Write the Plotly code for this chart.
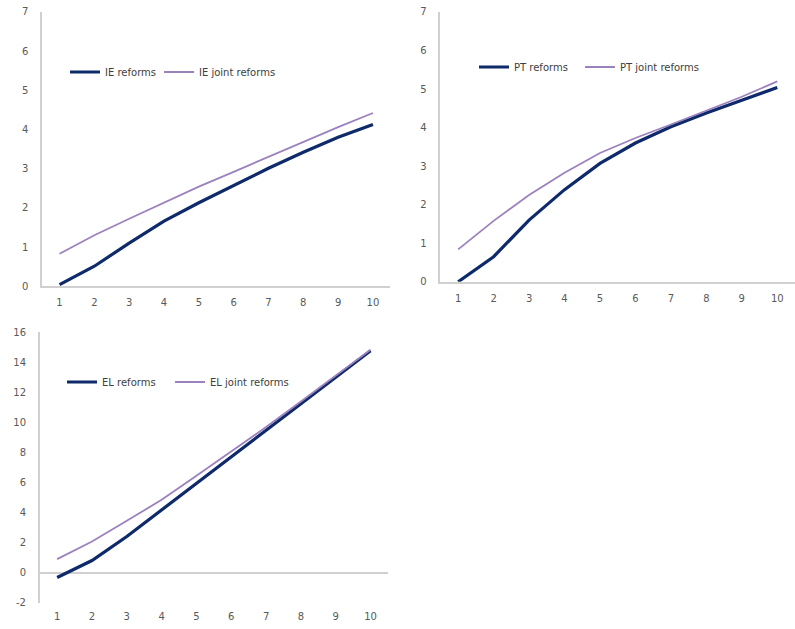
import plotly.graph_objects as go

years = [1, 2, 3, 4, 5, 6, 7, 8, 9, 10]

ie_reforms = [0.04, 0.51, 1.10, 1.66, 2.13, 2.58, 3.01, 3.42, 3.80, 4.13]
ie_joint = [0.83, 1.30, 1.72, 2.13, 2.54, 2.92, 3.30, 3.69, 4.06, 4.42]

pt_reforms = [0.0, 0.65, 1.60, 2.39, 3.07, 3.60, 4.02, 4.38, 4.71, 5.04]
pt_joint = [0.84, 1.58, 2.25, 2.83, 3.34, 3.73, 4.08, 4.43, 4.80, 5.20]

el_reforms = [-0.33, 0.80, 2.40, 4.17, 5.95, 7.72, 9.50, 11.27, 13.05, 14.76]
el_joint = [0.89, 2.06, 3.44, 4.84, 6.44, 8.06, 9.68, 11.38, 13.09, 14.82]

el_ytick_vals = [-2, 0, 2, 4, 6, 8, 10, 12, 14, 16]
el_ytick_text = ["-2", "0", "2", "4", "6", "8", "10", "12", "14", "16"]

NAVY = "#0E2A6B"
PURPLE = "#9B82BF"
AXIS = "#D0D0D0"
TICK = "#595959"
FONT = "DejaVu Sans"
W, H = 795, 629

fig = go.Figure()

# (name, reforms, joint, xaxis, yaxis, legend x px for each item, legend y px)
panels = [
    ("IE", ie_reforms, ie_joint, "x", "y", (68, 162), 72),
    ("PT", pt_reforms, pt_joint, "x2", "y2", (477, 583), 67),
    ("EL", el_reforms, el_joint, "x3", "y3", (65, 173), 382),
]
legends = {}
k = 1
for name, ref, joint, xa, ya, lx, ly in panels:
    for series, label, color, width, px in [
        (ref, f"{name} reforms", NAVY, 3.2, lx[0]),
        (joint, f"{name} joint reforms", PURPLE, 1.8, lx[1]),
    ]:
        lg = "legend" if k == 1 else f"legend{k}"
        fig.add_trace(go.Scatter(x=years, y=series, mode="lines", name=label,
                                 line=dict(color=color, width=width),
                                 xaxis=xa, yaxis=ya, legend=lg))
        legends[lg] = dict(x=(px - 3) / W, y=1 - ly / H, xanchor="left", yanchor="middle",
                           orientation="h", bgcolor="rgba(0,0,0,0)", itemwidth=30,
                           font=dict(family=FONT, size=10, color="#404040"))
        k += 1

def xax(domain, anchor, showline=True):
    return dict(domain=domain, anchor=anchor, range=[0.5, 10.5], tickmode="array",
                tickvals=years, showgrid=False, zeroline=False, showline=showline,
                linecolor=AXIS, linewidth=1.5, ticks="", automargin=False,
                tickfont=dict(family=FONT, size=10, color=TICK), ticklabelstandoff=6)

def yax(domain, anchor, rng, dtick, zeroline=False):
    return dict(domain=domain, anchor=anchor, range=rng, dtick=dtick, showgrid=False,
                zeroline=zeroline, zerolinecolor=AXIS, zerolinewidth=1.5,
                showline=True, linecolor=AXIS, linewidth=1.5, ticks="", automargin=False,
                tickfont=dict(family=FONT, size=10, color=TICK), ticklabelstandoff=10)

y3 = yax([0.042, 0.472], "x3", [-2, 16], 2, zeroline=True)
y3.update(tickmode="array", tickvals=el_ytick_vals, ticktext=el_ytick_text)

fig.update_layout(
    width=W, height=H,
    margin=dict(l=0, r=0, t=0, b=0, autoexpand=False),
    paper_bgcolor="white", plot_bgcolor="white",
    xaxis=xax([0.053, 0.491], "y"),
    yaxis=yax([0.545, 0.981], "x", [0, 7], 1),
    xaxis2=xax([0.554, 1.0], "y2"),
    yaxis2=yax([0.552, 0.981], "x2", [0, 7], 1),
    xaxis3=xax([0.050, 0.488], "y3", showline=False),
    yaxis3=y3,
    showlegend=True,
    **legends,
)

fig.write_html("out.html", config={"displayModeBar": False},
               post_script="document.body.style.margin='0';")
